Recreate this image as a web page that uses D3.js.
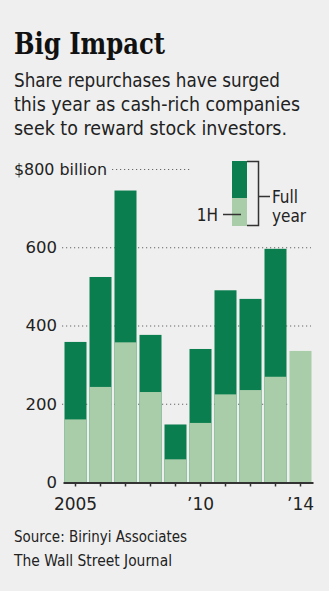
<!DOCTYPE html>
<html lang="en">
<head>
<meta charset="utf-8">
<title>Big Impact</title>
<script src="https://cdn.jsdelivr.net/npm/d3@7/dist/d3.min.js"></script>
<style>
  html, body { margin: 0; padding: 0; background: #efefef; }
  svg { display: block; }
  .narrow { font-family: "Liberation Sans Narrow", "DejaVu Sans Condensed", "Roboto", sans-serif; font-stretch: condensed; fill: #222; }
  .num { font-family: "DejaVu Sans", sans-serif; fill: #222; }
  .title { font-family: "DejaVu Serif Condensed", "DejaVu Serif", serif; font-weight: bold; font-size: 30px; fill: #111; }
  .grid { stroke: #666; stroke-width: 1.2; stroke-dasharray: 1.2 2.8; }
</style>
</head>
<body>
<div id="chart"></div>
<script>
// buybacks by year, $ billion
var years = [2005, 2006, 2007, 2008, 2009, 2010, 2011, 2012, 2013, 2014];
var firstHalf = [160, 243, 357, 230, 58, 151, 224, 235, 269, 335];
var fullYear = [358, 524, 745, 376, 147, 340, 490, 468, 596, null];
var yTicks = [0, 200, 400, 600, 800];
var xLabels = {2005: '2005', 2010: '\u201910', 2014: '\u201914'};

var width = 329, height = 591;
var darkGreen = '#0b7e4f', lightGreen = '#a9cca9';

var svg = d3.select('#chart').append('svg')
    .attr('width', width)
    .attr('height', height);

// headline and chatter
svg.append('text').attr('class', 'title')
    .attr('x', 14).attr('y', 54)
    .attr('textLength', 151).attr('lengthAdjust', 'spacingAndGlyphs')
    .text('Big Impact');

var chatter = ['Share repurchases have surged',
               'this year as cash-rich companies',
               'seek to reward stock investors.'];
var chatterWidths = [266, 286, 273];
svg.selectAll('.chatter').data(chatter).enter().append('text')
    .attr('class', 'chatter narrow')
    .attr('x', 14)
    .attr('y', function(d, i) { return 87 + i * 24; })
    .attr('font-size', 19)
    .attr('textLength', function(d, i) { return chatterWidths[i]; })
    .attr('lengthAdjust', 'spacingAndGlyphs')
    .text(function(d) { return d; });

var x = d3.scaleBand()
    .domain(years)
    .range([63, 313])
    .paddingInner(0.12)
    .paddingOuter(0.06);

var y = d3.scaleLinear()
    .domain([0, 800])
    .range([482, 169]);

// y labels, number part right aligned
var yLab = svg.append('g').attr('class', 'num').attr('font-size', 16.5);
var labelRight = 57;
var labels = yLab.selectAll('text').data(yTicks).enter().append('text')
    .attr('x', labelRight)
    .attr('y', function(d) { return y(d); })
    .attr('dy', '0.36em')
    .attr('text-anchor', 'end')
    .text(function(d) { return d == 800 ? '$' + d : d; });

// top label gets the unit tacked on
var topLabel = labels.filter(function(d) { return d == 800; });
topLabel.append('tspan').text(' billion');
topLabel.attr('text-anchor', 'start').attr('x', 14)
    .attr('textLength', 93).attr('lengthAdjust', 'spacingAndGlyphs');
var topEnd = 14 + 93;

svg.append('g').selectAll('line').data(yTicks.filter(function(d) { return d > 0; }))
    .enter().append('line')
    .attr('class', 'grid')
    .attr('x1', function(d) { return d == 800 ? topEnd + 5 : 62; })
    .attr('x2', function(d) { return d == 800 ? 190 : 311; })
    .attr('y1', function(d) { return y(d) + 0.5; })
    .attr('y2', function(d) { return y(d) + 0.5; });

// bars: full year behind, first half on top
var bars = svg.append('g');
bars.selectAll('.full').data(years).enter()
    .filter(function(d, i) { return fullYear[i] != null; })
    .append('rect')
    .attr('x', function(d) { return x(d); })
    .attr('width', x.bandwidth())
    .attr('y', function(d) { return y(fullYear[years.indexOf(d)]); })
    .attr('height', function(d) { return y(0) - y(fullYear[years.indexOf(d)]); })
    .attr('fill', darkGreen);

bars.selectAll('.half').data(years).enter().append('rect')
    .attr('x', function(d) { return x(d); })
    .attr('width', x.bandwidth())
    .attr('y', function(d, i) { return y(firstHalf[i]); })
    .attr('height', function(d, i) { return y(0) - y(firstHalf[i]); })
    .attr('fill', lightGreen);

// x axis
var xAxis = d3.axisBottom(x)
    .tickSize(4)
    .tickPadding(11)
    .tickSizeOuter(0)
    .tickFormat(function(d) { return xLabels[d] || ''; });

var gx = svg.append('g')
    .attr('transform', 'translate(0,' + (y(0) + 0.5) + ')')
    .call(xAxis);
gx.select('.domain').attr('stroke', '#333').attr('stroke-width', 2);
gx.selectAll('.tick line').attr('stroke', '#333').attr('stroke-width', 1.5);
gx.selectAll('.tick text')
    .attr('class', 'num')
    .attr('font-size', 17)
    .attr('fill', '#222');

// legend
var lg = svg.append('g');
var ly = d3.scaleLinear().domain([0, 1]).range([226, 161]);
lg.append('rect').attr('x', 232).attr('width', 15)
    .attr('y', ly(1)).attr('height', ly(0.43) - ly(1)).attr('fill', darkGreen);
lg.append('rect').attr('x', 232).attr('width', 15)
    .attr('y', ly(0.43)).attr('height', ly(0) - ly(0.43)).attr('fill', lightGreen);
lg.append('path')
    .attr('d', 'M247,' + (ly(1) + 0.5) + 'H258.5V' + (ly(0) - 0.5) + 'H247M258.5,196.5H270')
    .attr('fill', 'none').attr('stroke', '#333').attr('stroke-width', 1.5);
lg.append('line').attr('x1', 223).attr('x2', 241).attr('y1', 214.5).attr('y2', 214.5)
    .attr('stroke', '#333').attr('stroke-width', 1.5);
lg.append('text').attr('class', 'narrow').attr('font-size', 17)
    .attr('x', 218).attr('y', 221).attr('text-anchor', 'end').text('1H');
lg.append('text').attr('class', 'narrow').attr('font-size', 17)
    .attr('x', 272).attr('y', 203).text('Full');
lg.append('text').attr('class', 'narrow').attr('font-size', 17)
    .attr('x', 272).attr('y', 222).text('year');

// source line
var src = ['Source: Birinyi Associates', 'The Wall Street Journal'];
var srcWidths = [173, 158];
svg.selectAll('.src').data(src).enter().append('text')
    .attr('class', 'src narrow')
    .attr('x', 14)
    .attr('y', function(d, i) { return 542 + i * 24; })
    .attr('font-size', 15)
    .attr('fill', '#333')
    .attr('textLength', function(d, i) { return srcWidths[i]; })
    .attr('lengthAdjust', 'spacingAndGlyphs')
    .text(function(d) { return d; });
</script>
</body>
</html>
